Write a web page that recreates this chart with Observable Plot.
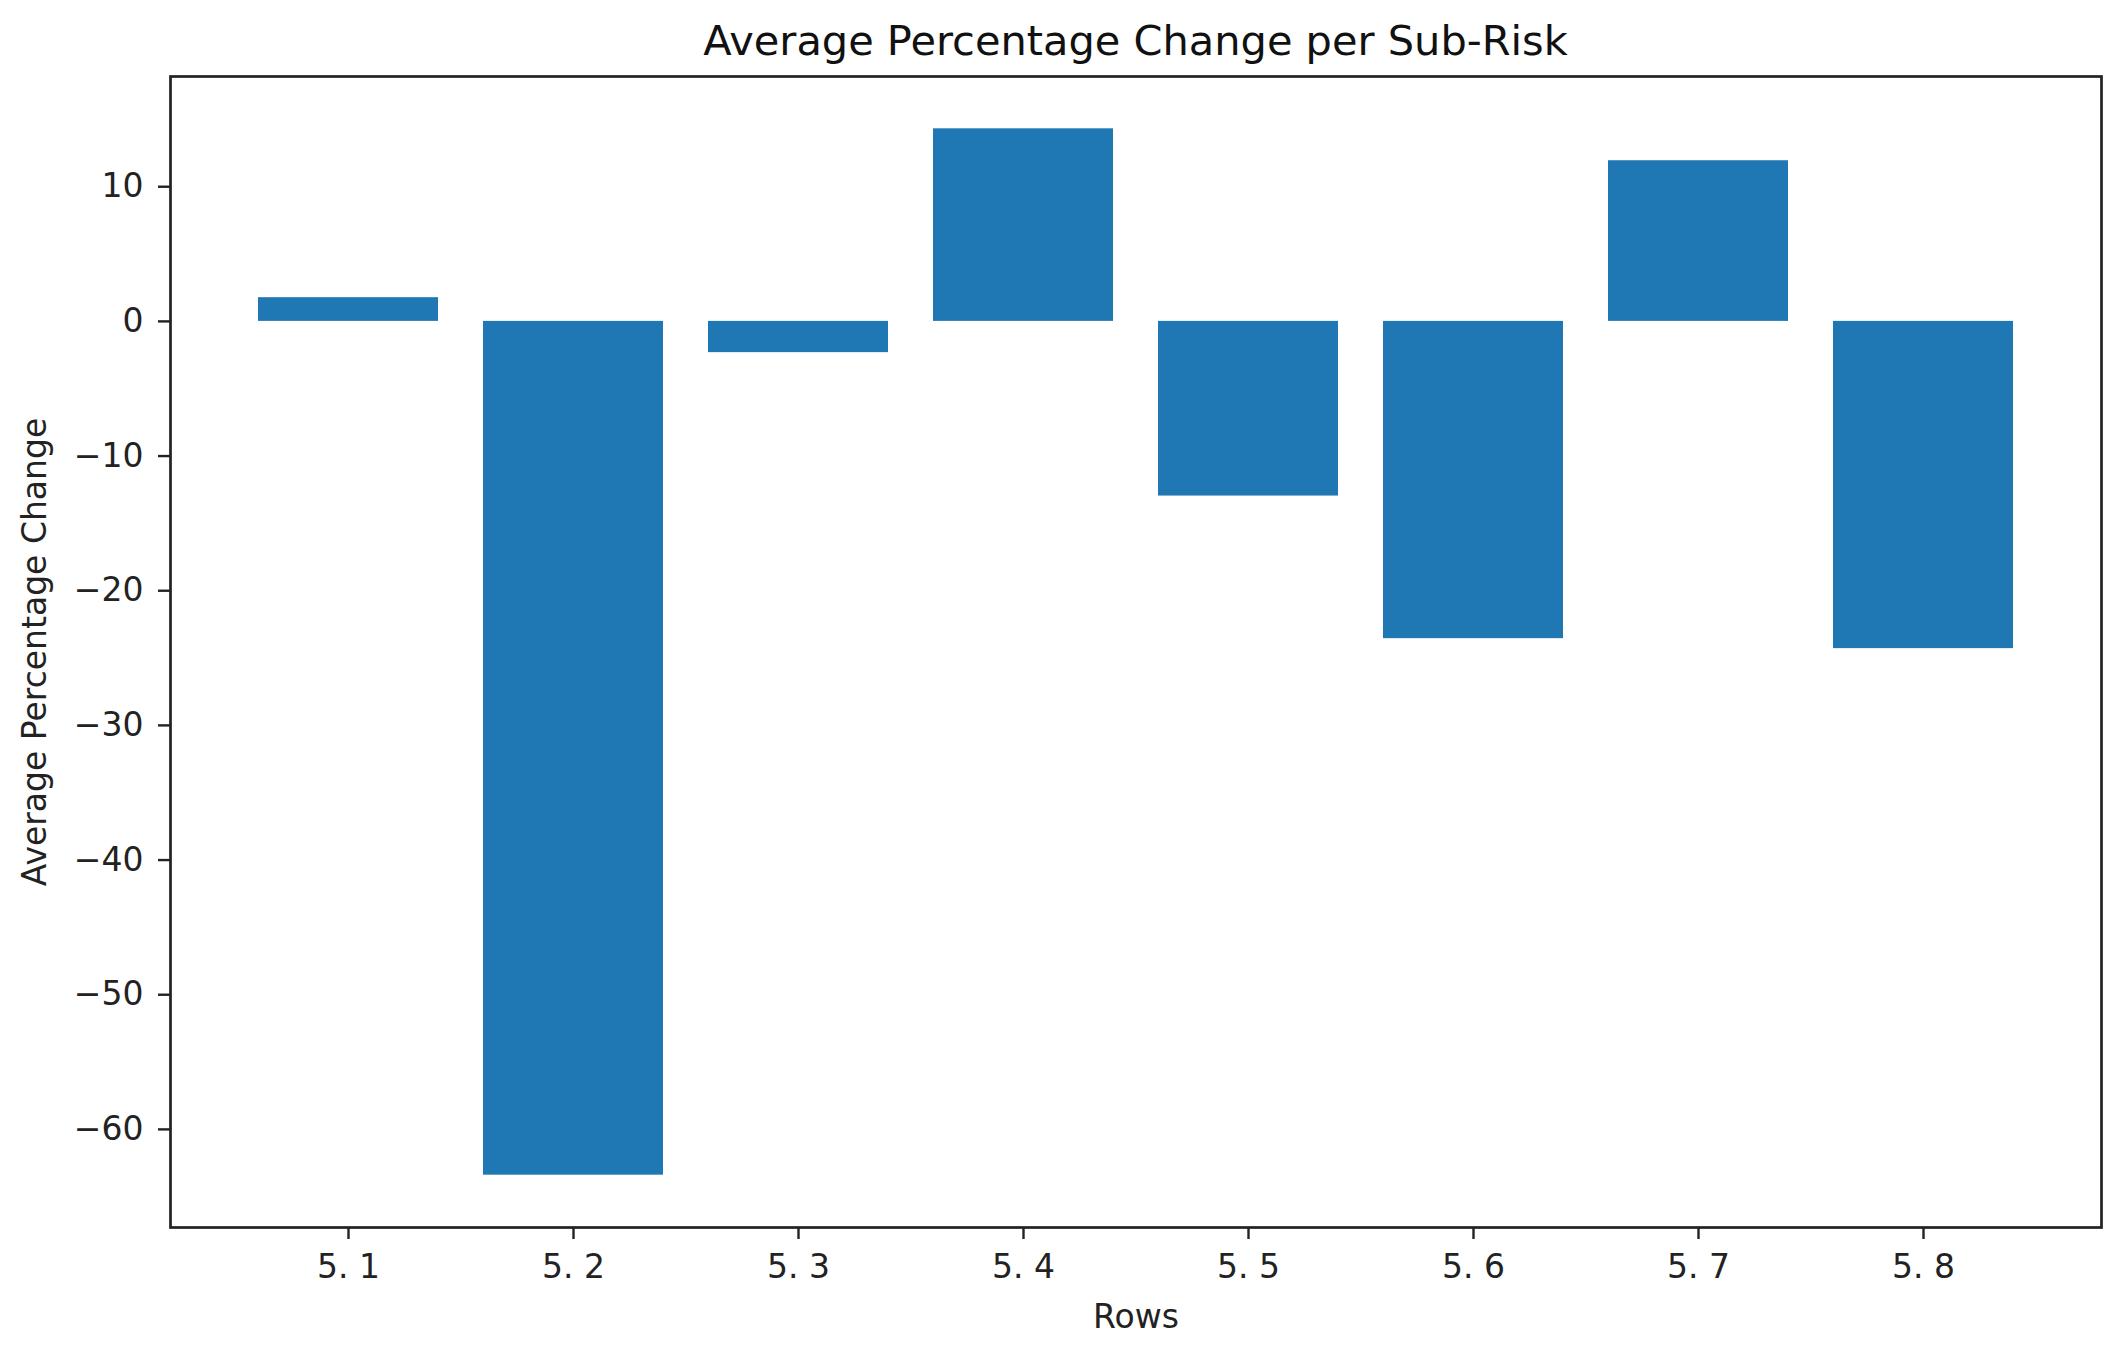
<!DOCTYPE html>
<html>
<head>
<meta charset="utf-8">
<script src="https://cdn.jsdelivr.net/npm/d3@7"></script>
<script src="https://cdn.jsdelivr.net/npm/@observablehq/plot@0.6"></script>
<style>
html, body { margin: 0; padding: 0; background: #fff; }
#title {
  box-sizing: border-box;
  width: 2120px;
  height: 71px;
  padding: 11px 19px 0 170px;
  font: 41.5px "DejaVu Sans";
  line-height: 60px;
  text-align: center;
  color: #111;
  white-space: nowrap;
}
#chart svg { display: block; }
</style>
</head>
<body>
<div id="title">Average Percentage Change per Sub-Risk</div>
<div id="chart"></div>
<script>
const categories = ["5. 1", "5. 2", "5. 3", "5. 4", "5. 5", "5. 6", "5. 7", "5. 8"];
const values = [1.76, -63.4, -2.32, 14.3, -12.97, -23.56, 11.93, -24.3];
const yTicks = [-60, -50, -40, -30, -20, -10, 0, 10];
const xLabel = "Rows";
const yLabel = "Average Percentage Change";

const data = categories.map((c, i) => ({cat: c, value: values[i]}));

const lo = Math.min(0, d3.min(values));
const hi = Math.max(0, d3.max(values));
const pad = (hi - lo) * 0.05;

const chart = Plot.plot({
  width: 2120,
  height: 1276,
  marginTop: 5,
  marginBottom: 120,
  marginLeft: 170,
  marginRight: 19,
  style: {fontFamily: "DejaVu Sans", fontSize: "33px", color: "#222", background: "#fff"},
  x: {type: "band", domain: categories, paddingInner: 0.2, paddingOuter: 0.383, align: 0.5},
  y: {domain: [lo - pad, hi + pad]},
  marks: [
    Plot.barY(data, {x: "cat", y: "value", fill: "#1f77b4"}),
    Plot.axisX({tickSize: 12, tickPadding: 15, strokeWidth: 2.4, label: null}),
    Plot.axisY({ticks: yTicks, tickSize: 12, tickPadding: 15, strokeWidth: 2.4, label: null}),
    Plot.frame({stroke: "#222", strokeWidth: 2.7}),
    Plot.text([xLabel], {text: d => d, frameAnchor: "bottom", lineAnchor: "middle", textAnchor: "middle", dy: 90, fill: "#222"}),
    Plot.text([yLabel], {text: d => d, frameAnchor: "left", lineAnchor: "middle", textAnchor: "middle", rotate: -90, dx: -135, fill: "#222"})
  ]
});
document.getElementById("chart").appendChild(chart);
</script>
</body>
</html>
